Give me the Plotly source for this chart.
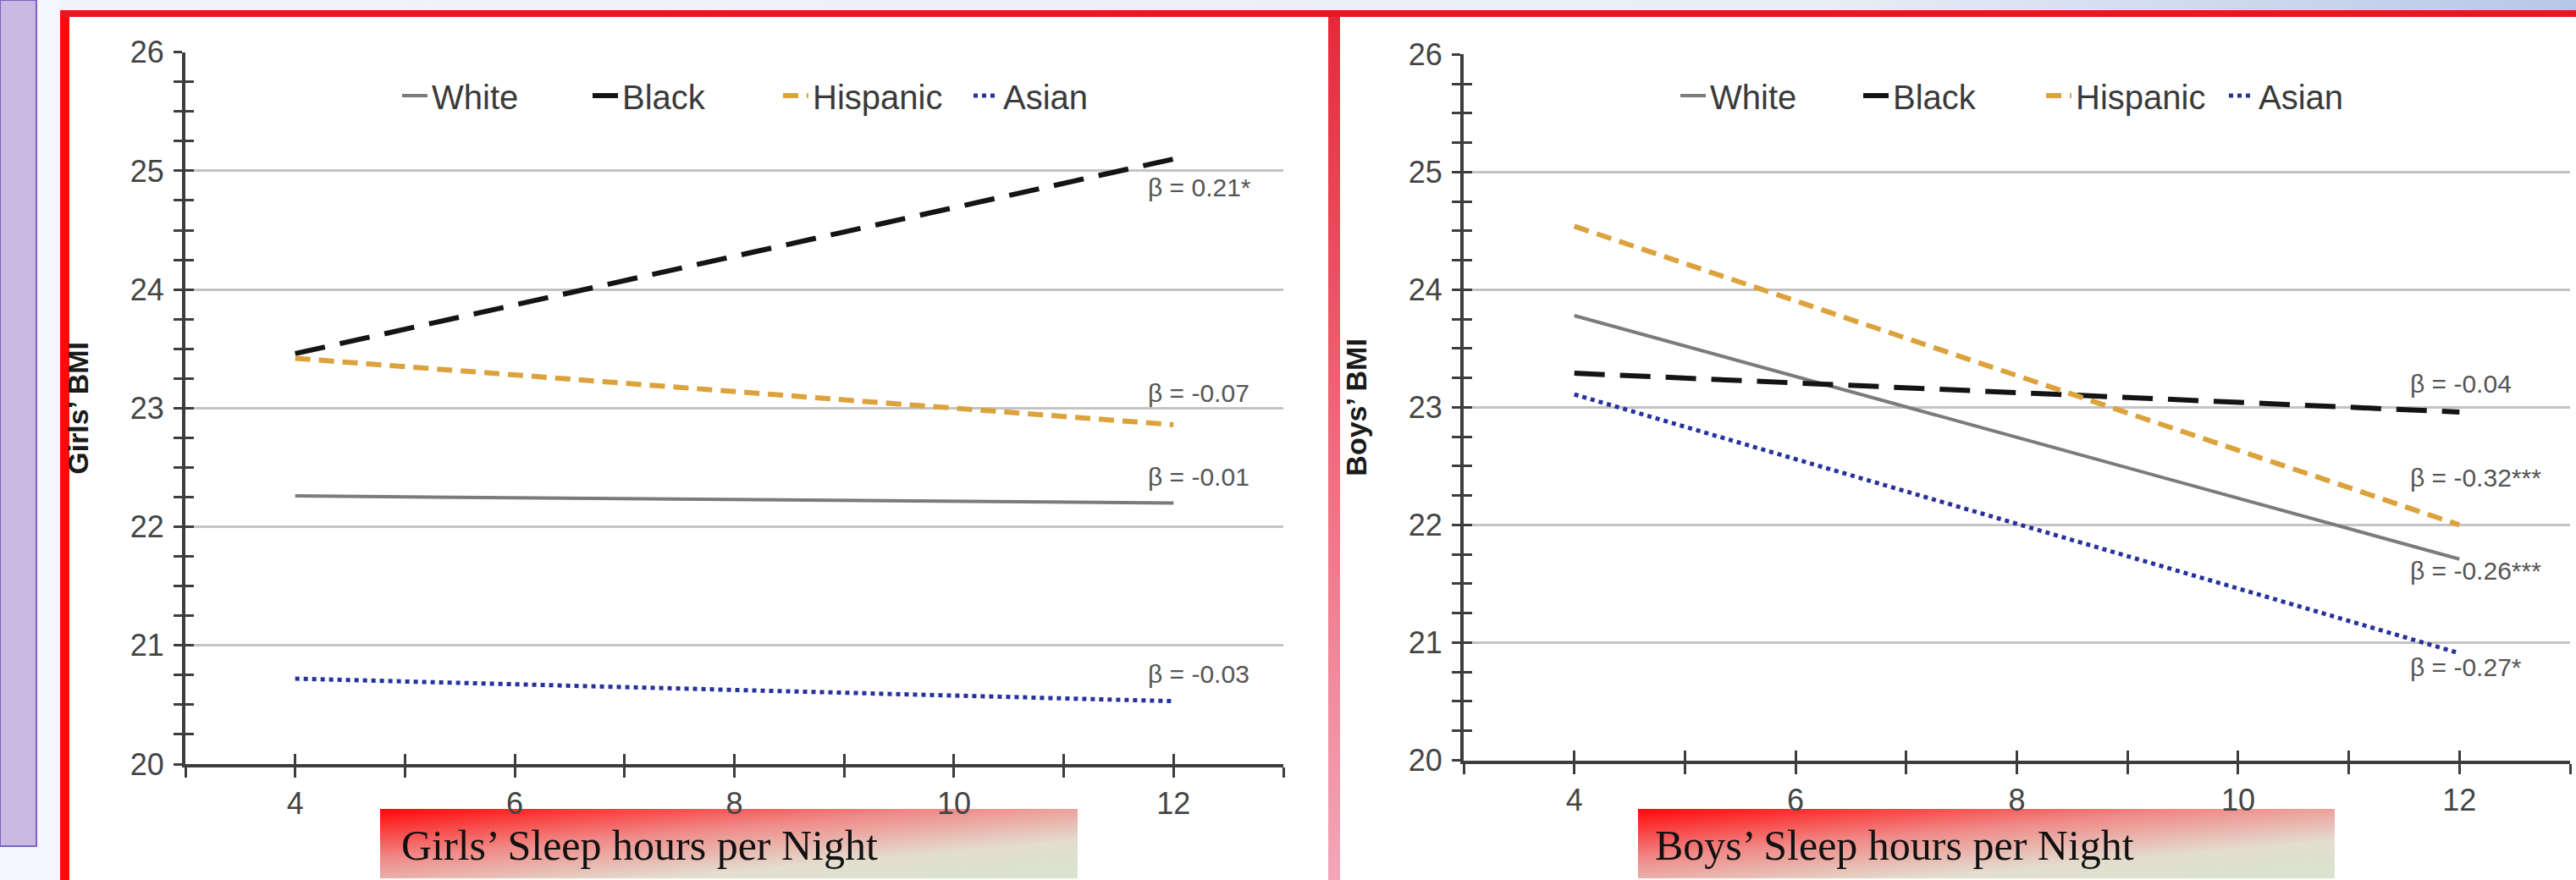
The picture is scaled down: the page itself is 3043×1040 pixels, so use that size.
import base64
import plotly.graph_objects as go

# ---------------- data ----------------
sleep_hours = [4, 12]
races = ["White", "Black", "Hispanic", "Asian"]

girls_white = [22.26, 22.20]
girls_black = [23.46, 25.10]
girls_hispanic = [23.42, 22.86]
girls_asian = [20.72, 20.53]

boys_white = [23.78, 21.71]
boys_black = [23.29, 22.96]
boys_hispanic = [24.54, 22.00]
boys_asian = [23.11, 20.91]

girls_beta = ["β = -0.01", "β = 0.21*", "β = -0.07", "β = -0.03"]
boys_beta = ["β = -0.26***", "β = -0.04", "β = -0.32***", "β = -0.27*"]

y_ticks = [20, 21, 22, 23, 24, 25, 26]
x_ticks = [4, 6, 8, 10, 12]

girls_series = [girls_white, girls_black, girls_hispanic, girls_asian]
boys_series = [boys_white, boys_black, boys_hispanic, boys_asian]

# ---------------- styles ----------------
W, H = 3043, 1040
styles = {
    "White": dict(color="#7b7b7b", width=4, dash="solid"),
    "Black": dict(color="#141414", width=6, dash="36px,18px"),
    "Hispanic": dict(color="#dca23c", width=6, dash="18px,10px"),
    "Asian": dict(color="#26329c", width=5, dash="5px,5px"),
}
# vertical offset (data units) of each beta label from its line end
girls_label_dy = [0.22, -0.24, 0.27, 0.23]
boys_label_dy = [-0.10, 0.24, 0.40, -0.12]
girls_label_dx = -0.25
boys_label_dx = -0.46

def px_x(p):
    return p / W

def px_y(p):
    return 1 - p / H

def svg_uri(svg):
    return "data:image/svg+xml;base64," + base64.b64encode(svg.encode("utf-8")).decode()

fig = go.Figure()

for i, r in enumerate(races):
    fig.add_trace(go.Scatter(
        x=sleep_hours, y=girls_series[i], name=r, mode="lines",
        line=styles[r], xaxis="x", yaxis="y", legend="legend",
        hoverinfo="skip"))
for i, r in enumerate(races):
    fig.add_trace(go.Scatter(
        x=sleep_hours, y=boys_series[i], name=r, mode="lines",
        line=styles[r], xaxis="x2", yaxis="y2", legend="legend2",
        hoverinfo="skip"))

# empty traces to activate the overlay axes that draw the inner half of the crossing ticks
fig.add_trace(go.Scatter(x=[], y=[], xaxis="x3", yaxis="y", showlegend=False))
fig.add_trace(go.Scatter(x=[], y=[], xaxis="x", yaxis="y3", showlegend=False))
fig.add_trace(go.Scatter(x=[], y=[], xaxis="x4", yaxis="y2", showlegend=False))
fig.add_trace(go.Scatter(x=[], y=[], xaxis="x2", yaxis="y4", showlegend=False))

axis_col = "#3d3d3d"
tick_font = dict(family="Liberation Sans, Arial", size=36, color="#444444")

left_dom = [px_x(219), px_x(1516)]
right_dom = [px_x(1729), px_x(3036)]
left_ydom = [px_y(903), px_y(61.7)]
right_ydom = [px_y(898.5), px_y(64.3)]

def xaxis_main(dom, anchor):
    return dict(domain=dom, anchor=anchor, range=[3, 13], tickmode="array",
                tickvals=x_ticks, ticktext=[str(v) for v in x_ticks],
                ticks="outside", ticklen=12, tickwidth=3, tickcolor=axis_col,
                minor=dict(dtick=1, tick0=3, ticks="outside", ticklen=12,
                           tickwidth=3, tickcolor=axis_col, showgrid=False),
                showline=True, linecolor=axis_col, linewidth=4,
                showgrid=False, zeroline=False, tickfont=tick_font,
                automargin=False, fixedrange=True)

def xaxis_inner(over, anchor):
    return dict(overlaying=over, anchor=anchor, range=[3, 13], tickmode="array",
                tickvals=x_ticks, ticks="inside", ticklen=12, tickwidth=3,
                tickcolor=axis_col,
                minor=dict(dtick=1, tick0=3, ticks="inside", ticklen=12,
                           tickwidth=3, tickcolor=axis_col, showgrid=False),
                showticklabels=False, showline=False, showgrid=False,
                zeroline=False, automargin=False, fixedrange=True)

def yaxis_main(dom, anchor, title):
    return dict(domain=dom, anchor=anchor, range=[20, 26], tickmode="array",
                tickvals=y_ticks, ticktext=[str(v) for v in y_ticks],
                ticks="outside", ticklen=10, tickwidth=3, tickcolor=axis_col,
                minor=dict(dtick=0.25, tick0=20, ticks="outside", ticklen=10,
                           tickwidth=3, tickcolor=axis_col, showgrid=False),
                showline=True, linecolor=axis_col, linewidth=4,
                showgrid=True, gridcolor="#c4c4c4", gridwidth=3,
                zeroline=False, tickfont=tick_font, ticklabelstandoff=4,
                title=dict(text=title, standoff=40,
                           font=dict(family="Liberation Sans, Arial", size=34,
                                     color="#1a1a1a", weight="bold")),
                automargin=False, fixedrange=True)

def yaxis_inner(over, anchor):
    return dict(overlaying=over, anchor=anchor, range=[20, 26], tickmode="array",
                tickvals=y_ticks, ticks="inside", ticklen=10, tickwidth=3,
                tickcolor=axis_col,
                minor=dict(dtick=0.25, tick0=20, ticks="inside", ticklen=10,
                           tickwidth=3, tickcolor=axis_col, showgrid=False),
                showticklabels=False, showline=False, showgrid=False,
                zeroline=False, automargin=False, fixedrange=True)

legend_common = dict(orientation="h", xanchor="left", yanchor="middle",
                     bgcolor="rgba(0,0,0,0)", itemwidth=30,
                     entrywidthmode="pixels",
                     font=dict(family="Liberation Sans, Arial", size=40,
                               color="#3a3a3a"))

# ---- beta annotations ----
annotations = []
for i, r in enumerate(races):
    annotations.append(dict(
        x=sleep_hours[-1] + girls_label_dx, y=girls_series[i][-1] + girls_label_dy[i],
        xref="x", yref="y", text=girls_beta[i], showarrow=False,
        xanchor="left", yanchor="middle",
        font=dict(family="Liberation Sans, Arial", size=30, color="#555555")))
    annotations.append(dict(
        x=sleep_hours[-1] + boys_label_dx, y=boys_series[i][-1] + boys_label_dy[i],
        xref="x2", yref="y2", text=boys_beta[i], showarrow=False,
        xanchor="left", yanchor="middle",
        font=dict(family="Liberation Sans, Arial", size=30, color="#555555")))

# x-axis captions in gradient boxes
caption_font = dict(family="Liberation Serif, Times New Roman", size=50, color="#111111")
annotations.append(dict(x=px_x(472), y=px_y(999), xref="paper", yref="paper",
                        text="Girls’ Sleep hours per Night", showarrow=False,
                        xanchor="left", yanchor="middle", font=caption_font))
annotations.append(dict(x=px_x(1953), y=px_y(999), xref="paper", yref="paper",
                        text="Boys’ Sleep hours per Night", showarrow=False,
                        xanchor="left", yanchor="middle", font=caption_font))

# ---- decorative frame ----
shapes = [
    dict(type="rect", xref="paper", yref="paper", x0=0, x1=px_x(71), y0=0, y1=1,
         fillcolor="#f4f6fb", line=dict(width=0), layer="below"),
    dict(type="rect", xref="paper", yref="paper", x0=0, x1=px_x(43), y0=px_y(1000), y1=1,
         fillcolor="#c9b8df", line=dict(color="#7d62c2", width=2), layer="below"),
    dict(type="rect", xref="paper", yref="paper", x0=px_x(71), x1=px_x(82), y0=0,
         y1=px_y(12), fillcolor="#ff0a0a", line=dict(width=0), layer="below"),
    dict(type="rect", xref="paper", yref="paper", x0=px_x(71), x1=1, y0=px_y(20),
         y1=px_y(12), fillcolor="#ee1520", line=dict(width=0), layer="below"),
]

top_svg = ('<svg xmlns="http://www.w3.org/2000/svg" width="1000" height="10" '
           'preserveAspectRatio="none"><defs><linearGradient id="g" x1="0" y1="0" '
           'x2="1" y2="0"><stop offset="0" stop-color="#f2f4f9"/><stop offset="0.7" '
           'stop-color="#e9edf6"/><stop offset="1" stop-color="#b6c8e7"/></linearGradient>'
           '</defs><rect width="1000" height="10" fill="url(#g)"/></svg>')
div_svg = ('<svg xmlns="http://www.w3.org/2000/svg" width="10" height="1000" '
           'preserveAspectRatio="none"><defs><linearGradient id="g" x1="0" y1="0" '
           'x2="0" y2="1"><stop offset="0" stop-color="#e8283a"/><stop offset="0.5" '
           'stop-color="#ef6b7d"/><stop offset="1" stop-color="#f2a6b8"/></linearGradient>'
           '</defs><rect width="10" height="1000" fill="url(#g)"/></svg>')
box_svg = ('<svg xmlns="http://www.w3.org/2000/svg" width="824" height="84" '
           'preserveAspectRatio="none"><defs><linearGradient id="g" x1="0" y1="0" '
           'x2="0.9" y2="1"><stop offset="0" stop-color="#ff0808"/><stop offset="0.4" '
           'stop-color="#f08a88"/><stop offset="0.75" stop-color="#e3ddcf"/>'
           '<stop offset="1" stop-color="#d9e3cf"/></linearGradient></defs>'
           '<rect width="824" height="84" fill="url(#g)"/></svg>')

images = [
    dict(source=svg_uri(top_svg), xref="paper", yref="paper", x=px_x(71), y=1,
         sizex=1 - px_x(71), sizey=12 / H, xanchor="left", yanchor="top",
         sizing="stretch", layer="above"),
    dict(source=svg_uri(div_svg), xref="paper", yref="paper", x=px_x(1569), y=px_y(20),
         sizex=14 / W, sizey=1 - 20 / H, xanchor="left", yanchor="top",
         sizing="stretch", layer="above"),
    dict(source=svg_uri(box_svg), xref="paper", yref="paper", x=px_x(449), y=px_y(956),
         sizex=(1273 - 449) / W, sizey=82 / H, xanchor="left", yanchor="top",
         sizing="stretch", layer="below"),
    dict(source=svg_uri(box_svg), xref="paper", yref="paper", x=px_x(1935), y=px_y(956),
         sizex=(2758 - 1935) / W, sizey=82 / H, xanchor="left", yanchor="top",
         sizing="stretch", layer="below"),
]

fig.update_layout(
    width=W, height=H, autosize=False,
    margin=dict(l=0, r=0, t=0, b=0, pad=0),
    paper_bgcolor="#ffffff", plot_bgcolor="rgba(0,0,0,0)",
    xaxis=xaxis_main(left_dom, "y"),
    xaxis2=xaxis_main(right_dom, "y2"),
    xaxis3=xaxis_inner("x", "y"),
    xaxis4=xaxis_inner("x2", "y2"),
    yaxis=yaxis_main(left_ydom, "x", "Girls’ BMI"),
    yaxis2=yaxis_main(right_ydom, "x2", "Boys’ BMI"),
    yaxis3=yaxis_inner("y", "x"),
    yaxis4=yaxis_inner("y2", "x2"),
    legend=dict(legend_common, x=px_x(470), y=px_y(113), entrywidth=180),
    legend2=dict(legend_common, x=px_x(1980), y=px_y(113), entrywidth=171),
    annotations=annotations,
    shapes=shapes,
    images=images,
    showlegend=True,
)

fig.write_html("out.html", config={"displayModeBar": False, "staticPlot": True},
               post_script="document.body.style.margin='0';document.body.style.overflow='hidden';")
